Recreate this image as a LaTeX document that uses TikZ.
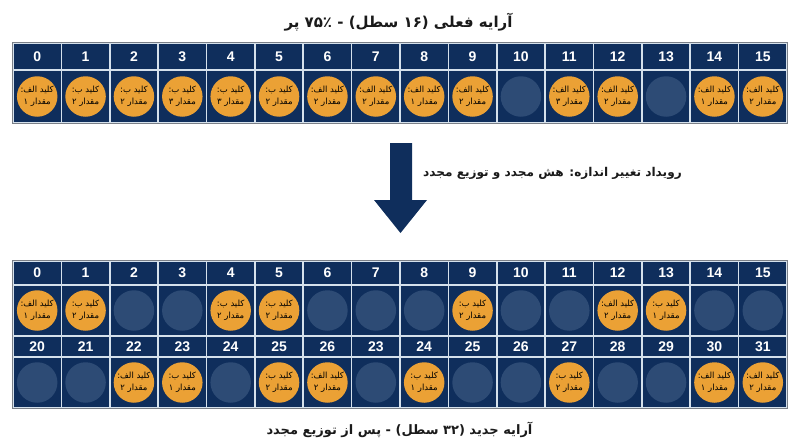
\documentclass[tikz,border=0pt]{standalone}
\usepackage{fontspec}
\TeXXeTstate=1
\newfontfamily\arabicfont[Script=Arabic]{DejaVu Sans}
\newfontfamily\numfont{Liberation Sans}
\definecolor{navy}{HTML}{0F2E5C}
\definecolor{gridc}{HTML}{D5E1EC}
\definecolor{emptyfill}{HTML}{2D4B75}
\definecolor{orangefill}{HTML}{EBA135}
\definecolor{bordc}{HTML}{7A7F87}
\definecolor{titlec}{HTML}{1A1A1A}
\newcommand\fadig[1]{\ifcase#1 ۰\or ۱\or ۲\or ۳\fi}
\newcommand\keyname[1]{\if a#1الف\else ب\fi}
\tikzset{
  hdr/.style={rectangle, fill=navy, draw=gridc, line width=1.6pt, minimum width=48.375pt, minimum height=#1, inner sep=0pt, text=white, font=\numfont\bfseries\fontsize{14}{14}\selectfont},
  cellbox/.style={rectangle, fill=navy, draw=gridc, line width=1.6pt, minimum width=48.375pt, minimum height=#1, inner sep=0pt},
  emptyc/.style={circle, fill=emptyfill, minimum size=#1, inner sep=0pt},
  fullc/.style={circle, fill=orangefill, minimum size=#1, inner sep=0pt},
  ctext/.style={inner sep=0pt, align=center, text=black, font=\arabicfont\fontsize{8.5}{12.5}\selectfont},
  ttl/.style={inner sep=0pt, text=titlec, font=\arabicfont\bfseries\fontsize{14}{16}\selectfont},
  outer/.style={draw=bordc, line width=1.2pt},
}
\newcommand\slotcell[5]{% #1 name, #2 x, #3 y, #4 key, #5 value
  \if e#4
    \node[emptyc=40.5pt] (#1) at (#2,#3) {};
  \else
    \node[fullc=40.5pt] (#1) at (#2,#3) {};
    \node[ctext] (#1t) at (#2,#3) {\beginR کلید \keyname{#4}:\endR\\\beginR مقدار \fadig{#5}\endR};
  \fi}
\begin{document}
\begin{tikzpicture}[x=1pt,y=-1pt]
\useasboundingbox (0,0) rectangle (800,447);
% ---- top array
\node[ttl, font=\arabicfont\bfseries\fontsize{15}{17}\selectfont] (title1) at (398.5,22) {\beginR آرایه فعلی (\beginL ۱۶\endL{} سطل) - \beginL ۷۵٪\endL{} پر\endR};
\foreach \i/\lab/\k/\v in {0/0/a/1, 1/1/b/2, 2/2/b/2, 3/3/b/3, 4/4/b/3, 5/5/b/2, 6/6/a/2, 7/7/a/2, 8/8/a/1, 9/9/a/2, 10/10/e/0, 11/11/a/3, 12/12/a/2, 13/13/e/0, 14/14/a/1, 15/15/a/2}{
  \pgfmathsetmacro\cx{13+48.375*(\i+0.5)}
  \node[hdr=27pt] (th\i) at (\cx,56.5) {\lab};
  \node[cellbox=53pt] (tc\i) at (\cx,96.5) {};
  \slotcell{tk\i}{\cx}{96.5}{\k}{\v}
}
\draw[outer] (th0.north west) rectangle (tc15.south east);
% ---- arrow
\fill[navy] (390,143) -- (412,143) -- (412,200) -- (427,200) -- (400.5,233) -- (374,200) -- (390,200) -- cycle;
\node[ttl, anchor=west, font=\arabicfont\bfseries\fontsize{12.1}{14}\selectfont] (event) at (423,173) {\beginR رویداد تغییر اندازه: هش مجدد و توزیع مجدد\endR};
% ---- bottom array, first row
\foreach \i/\lab/\k/\v in {0/0/a/1, 1/1/b/2, 2/2/e/0, 3/3/e/0, 4/4/b/2, 5/5/b/2, 6/6/e/0, 7/7/e/0, 8/8/e/0, 9/9/b/2, 10/10/e/0, 11/11/e/0, 12/12/a/2, 13/13/b/1, 14/14/e/0, 15/15/e/0}{
  \pgfmathsetmacro\cx{13+48.375*(\i+0.5)}
  \node[hdr=24pt] (ah\i) at (\cx,273) {\lab};
  \node[cellbox=51pt] (ac\i) at (\cx,310.5) {};
  \slotcell{ak\i}{\cx}{310.5}{\k}{\v}
}
% ---- bottom array, second row
\foreach \i/\lab/\k/\v in {0/20/e/0, 1/21/e/0, 2/22/a/2, 3/23/b/1, 4/24/e/0, 5/25/b/2, 6/26/a/2, 7/23/e/0, 8/24/b/1, 9/25/e/0, 10/26/e/0, 11/27/b/2, 12/28/e/0, 13/29/e/0, 14/30/a/1, 15/31/a/2}{
  \pgfmathsetmacro\cx{13+48.375*(\i+0.5)}
  \node[hdr=21pt] (bh\i) at (\cx,346.5) {\lab};
  \node[cellbox=51pt] (bc\i) at (\cx,382.5) {};
  \slotcell{bk\i}{\cx}{382.5}{\k}{\v}
}
\draw[outer] (ah0.north west) rectangle (bc15.south east);
\node[ttl, font=\arabicfont\bfseries\fontsize{13}{15}\selectfont] (title2) at (399.5,430) {\beginR آرایه جدید (\beginL ۳۲\endL{} سطل) - پس از توزیع مجدد\endR};
\end{tikzpicture}
\end{document}
